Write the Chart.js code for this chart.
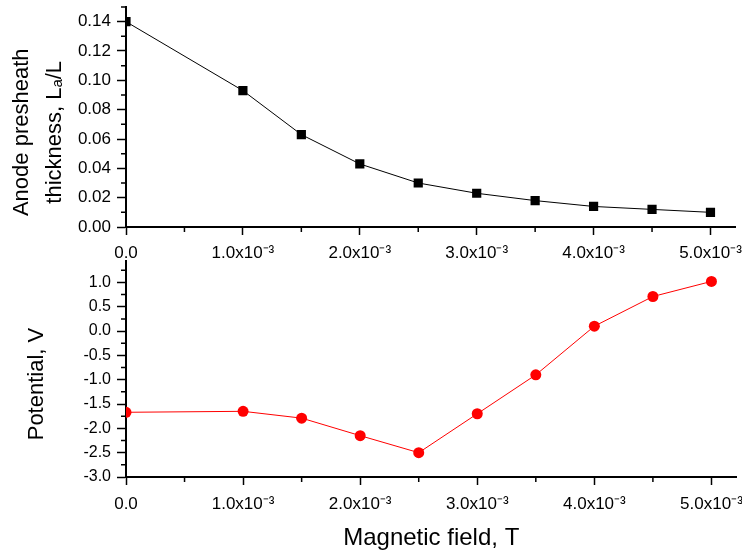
<!DOCTYPE html>
<html>
<head>
<meta charset="utf-8">
<script src="https://cdn.jsdelivr.net/npm/chart.js@4"></script>
<style>
body { margin: 0; background: #fff; }
#wrap { position: relative; width: 742px; height: 554px; overflow: hidden; }
canvas { position: absolute; left: 0; }
#ustGrafik { top: 0; }
#altGrafik { top: 255px; }
</style>
</head>
<body>
<div id="wrap">
  <canvas id="ustGrafik" width="742" height="265"></canvas>
  <canvas id="altGrafik" width="742" height="299"></canvas>
</div>
<script>
// magnetic field (T)
var alan = [0, 0.001, 0.0015, 0.002, 0.0025, 0.003, 0.0035, 0.004, 0.0045, 0.005];
// anode presheath thickness La/L
var kalinlik = [0.140, 0.093, 0.063, 0.043, 0.030, 0.023, 0.018, 0.014, 0.012, 0.010];
// potential (V)
var potansiyel = [-1.67, -1.65, -1.79, -2.15, -2.50, -1.70, -0.90, 0.10, 0.71, 1.02];
// x tick labels, one per 1.0x10-3
var alanEtiket = ['0.0', '1.0x10⁻³', '2.0x10⁻³', '3.0x10⁻³', '4.0x10⁻³', '5.0x10⁻³'];

var yazi = 'Liberation Sans, Arial, sans-serif';
Chart.defaults.color = '#000';
Chart.defaults.font.family = yazi;

function noktalar(ys)
{
    var arr = [];
    for (var i = 0; i < alan.length; i++)
        arr.push({ x: alan[i], y: ys[i] });
    return arr;
}

// short ticks between the labelled ones
var araCizgi = {
    id: 'araCizgi',
    afterDraw: function(chart, args, opts)
    {
        var ctx = chart.ctx;
        var sx = chart.scales.x, sy = chart.scales.y;
        ctx.save();
        ctx.strokeStyle = '#000';
        ctx.lineWidth = 1.5;
        ctx.beginPath();
        for (var v = 0.0005; v < sx.max; v += 0.001) {
            var px = sx.getPixelForValue(v);
            ctx.moveTo(px, sx.top);
            ctx.lineTo(px, sx.top + 5);
        }
        for (var w = sy.min + opts.adim / 2; w <= sy.max + 1e-9; w += opts.adim) {
            var py = sy.getPixelForValue(w);
            ctx.moveTo(sy.right, py);
            ctx.lineTo(sy.right - 5, py);
        }
        ctx.stroke();
        ctx.restore();
    }
};

function xEkseni(dolgu, yukseklik, baslik)
{
    var eksen = {
        type: 'linear',
        min: 0,
        max: 0.005214,
        border: { display: true, color: '#000', width: 2 },
        grid: { drawOnChartArea: false, drawTicks: true, tickLength: 8, tickColor: '#000', tickWidth: 1.5 },
        ticks: {
            stepSize: 0.001,
            includeBounds: false,
            maxRotation: 0,
            autoSkip: false,
            padding: dolgu,
            font: { size: 17 },
            callback: function(v) { return alanEtiket[Math.round(v * 1000)]; }
        },
        afterFit: function(s) { s.paddingLeft = 0; s.paddingRight = 0; s.height = yukseklik; }
    };
    if (baslik) {
        eksen.title = { display: true, text: baslik, font: { size: 24 }, padding: { top: 0, bottom: 1 } };
    }
    return eksen;
}

function yEkseni(min, max, adim, basamak, boyut, baslik, satir, ustBosluk)
{
    return {
        type: 'linear',
        min: min,
        max: max,
        border: { display: true, color: '#000', width: 2 },
        grid: { drawOnChartArea: false, drawTicks: true, tickLength: 9, tickColor: '#000', tickWidth: 1.5 },
        ticks: {
            stepSize: adim,
            includeBounds: false,
            padding: 6,
            font: { size: boyut },
            callback: function(v) {
                if (Math.abs(v) < 1e-9) v = 0;
                return v.toFixed(basamak);
            }
        },
        title: {
            display: true,
            text: baslik,
            font: { size: 22, lineHeight: satir },
            padding: { top: ustBosluk, bottom: 0 }
        },
        afterFit: function(s) { s.width = 126; s.paddingTop = 0; s.paddingBottom = 0; }
    };
}

var ust = new Chart(document.getElementById('ustGrafik').getContext('2d'), {
    type: 'line',
    data: {
        datasets: [{
            data: noktalar(kalinlik),
            borderColor: '#000',
            borderWidth: 1,
            backgroundColor: '#000',
            pointStyle: 'rect',
            pointRadius: 6.5,
            pointBorderWidth: 0,
            tension: 0
        }]
    },
    options: {
        responsive: false,
        animation: false,
        devicePixelRatio: 1,
        layout: { padding: { top: 7, right: 0, left: 0, bottom: 0 } },
        plugins: { legend: { display: false }, tooltip: { enabled: false }, araCizgi: { adim: 0.02 } },
        scales: {
            x: xEkseni(8, 38, null),
            y: yEkseni(0, 0.15, 0.02, 2, 17, ['Anode presheath     ', 'thickness, Lₐ/L     '], 1.5, 5.5)
        }
    },
    plugins: [araCizgi]
});

var alt = new Chart(document.getElementById('altGrafik').getContext('2d'), {
    type: 'line',
    data: {
        datasets: [{
            data: noktalar(potansiyel),
            borderColor: '#ff0000',
            borderWidth: 1,
            backgroundColor: '#ff0000',
            pointStyle: 'circle',
            pointRadius: 5.5,
            pointBorderWidth: 0,
            tension: 0
        }]
    },
    options: {
        responsive: false,
        animation: false,
        devicePixelRatio: 1,
        layout: { padding: { top: 3, right: 0, left: 0, bottom: 0 } },
        plugins: { legend: { display: false }, tooltip: { enabled: false }, araCizgi: { adim: 0.5 } },
        scales: {
            x: xEkseni(9, 77, 'Magnetic field, T'),
            y: yEkseni(-3, 1.45, 0.5, 1, 16, 'Potential, V     ', 1.2, 24)
        }
    },
    plugins: [araCizgi]
});
</script>
</body>
</html>
